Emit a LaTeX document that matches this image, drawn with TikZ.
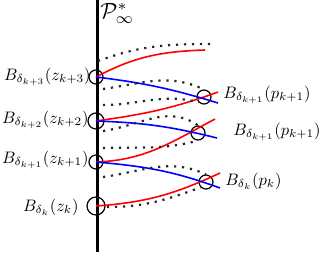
\documentclass[tikz,border=0pt]{standalone}
\usepackage{amsmath,amssymb}

\newcommand{\balltext}[1]% label text, shrunk
    {\scalebox{0.83}{$#1$}
}

\begin{document}
\begin{tikzpicture}[
    x=0.5pt, y=-0.5pt,
    ball/.style={circle, draw=black, line width=0.6pt, inner sep=0pt, minimum size=7pt},
    ball-label/.style={inner sep=0pt},
    red-path/.style={red, line width=0.8pt},
    blue-path/.style={blue, line width=0.8pt},
    tube/.style={black!85, line width=1.1pt, dash pattern=on 1.1pt off 2.9pt}
]
    \useasboundingbox (0,0) rectangle (319,252);

    % The set P*_infty (thick vertical line)
    \coordinate (top) at (97,0);
    \coordinate (bottom) at (97,252);
    \draw[line width=1.5pt] (top) -- (bottom);
    \node[anchor=north west, inner sep=0pt] (pinf) at (100,3)
        {\scalebox{1.1}{$\mathcal{P}^{*}_{\infty}$}};

    % Balls around z_k, ..., z_{k+3} on the line
    \node[ball]                     (zk3) at (96,77)  {};
    \node[ball, minimum size=8pt]   (zk2) at (96,121) {};
    \node[ball]                     (zk1) at (96,162) {};
    \node[ball, minimum size=9pt]   (zk0) at (96,206) {};

    % Balls around the points p
    \node[ball] (pu) at (204,97)  {};
    \node[ball] (pm) at (198,133) {};
    \node[ball] (pk) at (206,182) {};

    % Labels
    \node[ball-label, anchor=east] (lzk3) at (91,77)  {\balltext{B_{\delta_{k+3}}(z_{k+3})}};
    \node[ball-label, anchor=east] (lzk2) at (89,120) {\balltext{B_{\delta_{k+2}}(z_{k+2})}};
    \node[ball-label, anchor=east] (lzk1) at (89,160) {\balltext{B_{\delta_{k+1}}(z_{k+1})}};
    \node[ball-label, anchor=east] (lzk0) at (79,207) {\balltext{B_{\delta_{k}}(z_{k})}};
    \node[ball-label, anchor=west] (lpu) at (223,95)  {\balltext{B_{\delta_{k+1}}(p_{k+1})}};
    \node[ball-label, anchor=west] (lpm) at (233,132) {\balltext{B_{\delta_{k+1}}(p_{k+1})}};
    \node[ball-label, anchor=west] (lpk) at (225,181) {\balltext{B_{\delta_{k}}(p_{k})}};

    % Free ends of the curves
    \coordinate (r1) at (205,50);
    \coordinate (r2) at (218,92);
    \coordinate (r3) at (215,119);
    \coordinate (r4) at (220,173);
    \coordinate (b1) at (218,103);
    \coordinate (b2) at (217,138);
    \coordinate (b3) at (220,188);

    % Red curves
    \draw[red-path] (zk3.center) to[out=28, in=182] (r1);
    \draw[red-path] (zk2.center) to[out=8, in=200] (r2);
    \draw[red-path] (zk1.center) to[out=2, in=208] (r3);
    \draw[red-path] (zk0.center) to[out=4, in=205] (r4);

    % Blue curves
    \draw[blue-path] (zk3.center) to[out=-7, in=163] (b1);
    \draw[blue-path] (zk2.center) to[out=-2, in=166] (b2);
    \draw[blue-path] (zk1.center) to[out=-5, in=160] (b3);

    % Dotted tubes
    \draw[tube] (98,61)  to[out=20, in=180] (212,44);
    \draw[tube] (103,89) to[out=8, in=155] (pu.north);
    \draw[tube] (103,105) to[out=0, in=165] (pu.south west);
    \draw[tube] (103,131) to[out=8, in=145] (pm.north);
    \draw[tube] (103,148) to[out=2, in=195] (pm.south);
    \draw[tube] (103,177) to[out=8, in=155] (pk.north);
    \draw[tube] (107,207) to[out=0, in=200] (pk.south west);

\end{tikzpicture}
\end{document}
